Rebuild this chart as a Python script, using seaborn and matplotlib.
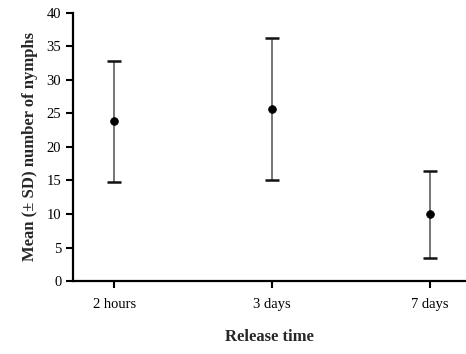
import matplotlib
matplotlib.use("Agg")
import matplotlib.pyplot as plt
import seaborn as sns
import pandas as pd

categories = ["2 hours", "3 days", "7 days"]
means = [23.8, 25.7, 10.0]
sd_upper = [32.8, 36.2, 16.4]
sd_lower = [14.7, 15.0, 3.5]

sns.set_theme(style="ticks")
plt.rcParams["font.family"] = ["Liberation Serif", "DejaVu Serif"]

df = pd.DataFrame({"time": categories, "mean": means})

fig = plt.figure(figsize=(4.66, 3.54), dpi=100)
ax = fig.add_axes([0.157, 0.206, 0.843, 0.758])

pos = list(range(len(categories)))
yerr = [[m - l for m, l in zip(means, sd_lower)], [u - m for m, u in zip(means, sd_upper)]]
eb = ax.errorbar(pos, means, yerr=yerr, fmt="none", ecolor="#6a6a6a", elinewidth=1.3,
                 capsize=5, capthick=1.8, zorder=2)
for cap in eb[1]:
    cap.set_markeredgecolor("#111111")
    cap.set_color("#111111")
sns.scatterplot(data=df, x="time", y="mean", ax=ax, color="black", s=32,
                edgecolor="black", zorder=3)

ax.set_xlim(-0.26, 2.23)
ax.set_ylim(0, 40)
ax.set_yticks(range(0, 41, 5))
ax.set_xticks(pos)
ax.set_xticklabels(categories)
ax.spines["top"].set_visible(False)
ax.spines["right"].set_visible(False)
for s in ["left", "bottom"]:
    ax.spines[s].set_linewidth(1.6)
    ax.spines[s].set_color("black")
ax.tick_params(axis="both", direction="out", length=5, width=1.5, colors="black",
               labelsize=10.5)
ax.tick_params(axis="x", pad=7)
ax.set_xlabel("Release time", fontsize=12, fontweight="bold", labelpad=13)
ax.set_ylabel("Mean (± SD) number of nymphs", fontsize=12, fontweight="bold", labelpad=6)

fig.savefig("out.png", dpi=100)
